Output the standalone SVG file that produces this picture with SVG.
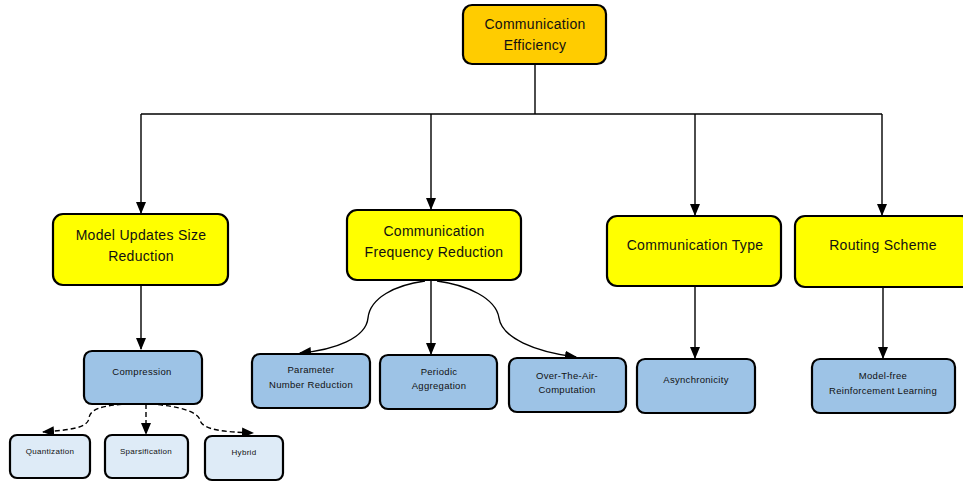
<svg xmlns="http://www.w3.org/2000/svg" width="963" height="483" viewBox="0 0 963 483">
<defs>
<marker id="ah" markerUnits="userSpaceOnUse" markerWidth="12" markerHeight="12" viewBox="0 0 12 12" refX="11" refY="6" orient="auto">
<path d="M0,1 L12,6 L0,11 Z" fill="#000"/>
</marker>
</defs>
<style>
rect{stroke:#000;stroke-width:2.2}
.root{fill:#FFCC00}
.l1{fill:#FFFF00}
.l2{fill:#9DC3E6}
.l3{fill:#DEEBF7}
text{font-family:"Liberation Sans",Arial,sans-serif;fill:#111;text-anchor:middle}
.t1{font-size:14px;letter-spacing:0.3px}
.t2{font-size:9.5px;letter-spacing:0.3px}
.t3{font-size:8px;letter-spacing:0.3px}
.c{fill:none;stroke:#000;stroke-width:1.4}
.d{stroke-dasharray:5,3}
</style>
<g id="connectors">
<path class="c" d="M535,64 V114"/>
<path class="c" d="M141,114 H882"/>
<path class="c" d="M141,114 V213" marker-end="url(#ah)"/>
<path class="c" d="M431,114 V209" marker-end="url(#ah)"/>
<path class="c" d="M695,114 V215" marker-end="url(#ah)"/>
<path class="c" d="M882,114 V215" marker-end="url(#ah)"/>
<path class="c" d="M141,285 V349" marker-end="url(#ah)"/>
<path class="c" d="M431,280 V354" marker-end="url(#ah)"/>
<path class="c" d="M425,281 C395,285 370,298 368,318 C366,338 335,350 300,353" marker-end="url(#ah)"/>
<path class="c" d="M437,281 C467,285 496,298 499,318 C502,338 535,352 576,357" marker-end="url(#ah)"/>
<path class="c" d="M695,286 V358" marker-end="url(#ah)"/>
<path class="c" d="M883,287 V358" marker-end="url(#ah)"/>
<path class="c d" d="M130,404 C100,405 90,410 89,418 C88,428 70,430 43,432" marker-end="url(#ah)"/>
<path class="c d" d="M146,404 V434" marker-end="url(#ah)"/>
<path class="c d" d="M150,404 C180,406 198,412 200,420 C202,430 225,432 253,433" marker-end="url(#ah)"/>
</g>
<g id="root">
<rect class="root" x="463" y="5" width="143" height="59" rx="9"/>
<text class="t1" x="535" y="29">Communication</text>
<text class="t1" x="535" y="50">Efficiency</text>
</g>
<g id="model-updates">
<rect class="l1" x="53" y="214" width="175" height="71" rx="10"/>
<text class="t1" x="141" y="240">Model Updates Size</text>
<text class="t1" x="141" y="261">Reduction</text>
</g>
<g id="freq-reduction">
<rect class="l1" x="347" y="210" width="174" height="70" rx="10"/>
<text class="t1" x="434" y="236">Communication</text>
<text class="t1" x="434" y="257">Frequency Reduction</text>
</g>
<g id="comm-type">
<rect class="l1" x="607" y="216" width="174" height="70" rx="10"/>
<text class="t1" x="695" y="250">Communication Type</text>
</g>
<g id="routing">
<rect class="l1" x="795" y="216" width="176" height="71" rx="10"/>
<text class="t1" x="883" y="250">Routing Scheme</text>
</g>
<g id="compression">
<rect class="l2" x="84" y="351" width="118" height="53" rx="8"/>
<text class="t2" x="142" y="375">Compression</text>
</g>
<g id="param">
<rect class="l2" x="252" y="354" width="118" height="54" rx="8"/>
<text class="t2" x="311" y="373">Parameter</text>
<text class="t2" x="311" y="388">Number Reduction</text>
</g>
<g id="periodic">
<rect class="l2" x="380" y="355" width="117" height="54" rx="8"/>
<text class="t2" x="439" y="375">Periodic</text>
<text class="t2" x="439" y="389">Aggregation</text>
</g>
<g id="ota">
<rect class="l2" x="509" y="358" width="117" height="54" rx="8"/>
<text class="t2" x="567" y="379">Over-The-Air-</text>
<text class="t2" x="567" y="393">Computation</text>
</g>
<g id="async">
<rect class="l2" x="637" y="359" width="118" height="54" rx="8"/>
<text class="t2" x="696" y="383">Asynchronicity</text>
</g>
<g id="rl">
<rect class="l2" x="812" y="359" width="143" height="54" rx="8"/>
<text class="t2" x="883" y="379">Model-free</text>
<text class="t2" x="883" y="394">Reinforcement Learning</text>
</g>
<g id="quant">
<rect class="l3" x="10" y="435" width="80" height="43" rx="7"/>
<text class="t3" x="50" y="454">Quantization</text>
</g>
<g id="sparse">
<rect class="l3" x="105" y="435" width="83" height="43" rx="7"/>
<text class="t3" x="146" y="454">Sparsification</text>
</g>
<g id="hybrid">
<rect class="l3" x="205" y="436" width="78" height="44" rx="7"/>
<text class="t3" x="244" y="455">Hybrid</text>
</g>
</svg>
